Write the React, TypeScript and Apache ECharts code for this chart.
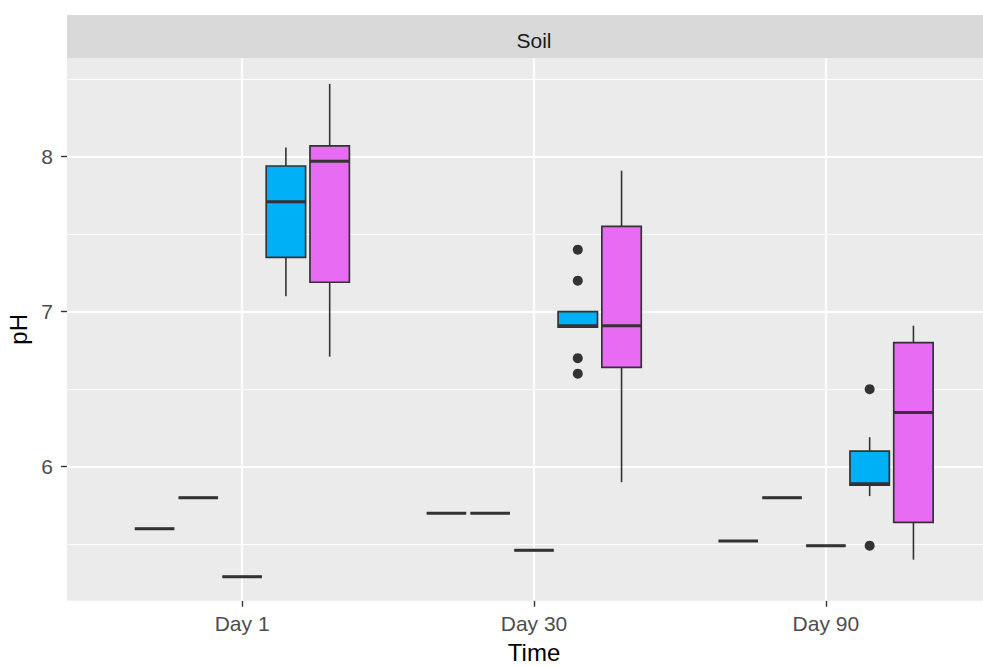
import React, { useEffect, useRef } from "react";
import * as echarts from "echarts";

// ---- data ----
const categories = ["Day 1", "Day 30", "Day 90"];
const dayPositions = [1, 2, 3];
const yTicks = [6, 7, 8];
const yMinorGrid = [5.5, 6.5, 7.5, 8.5];
const groupColors = ["#F8766D", "#A3A500", "#00BF7D", "#00B0F6", "#E76BF3"];

// each row: [min, q1, median, q3, max] for groups 1..5
const day1Stats = [
  [5.6, 5.6, 5.6, 5.6, 5.6],
  [5.8, 5.8, 5.8, 5.8, 5.8],
  [5.29, 5.29, 5.29, 5.29, 5.29],
  [7.1, 7.35, 7.71, 7.94, 8.06],
  [6.71, 7.19, 7.97, 8.07, 8.47],
];
const day30Stats = [
  [5.7, 5.7, 5.7, 5.7, 5.7],
  [5.7, 5.7, 5.7, 5.7, 5.7],
  [5.46, 5.46, 5.46, 5.46, 5.46],
  [6.9, 6.9, 6.91, 7.0, 7.0],
  [5.9, 6.64, 6.91, 7.55, 7.91],
];
const day90Stats = [
  [5.52, 5.52, 5.52, 5.52, 5.52],
  [5.8, 5.8, 5.8, 5.8, 5.8],
  [5.49, 5.49, 5.49, 5.49, 5.49],
  [5.81, 5.88, 5.89, 6.1, 6.19],
  [5.4, 5.64, 6.35, 6.8, 6.91],
];
const day30Group4Outliers = [7.4, 7.2, 6.7, 6.6];
const day90Group4Outliers = [6.5, 5.49];

const FONT = "Liberation Sans, Arial, sans-serif";
const DODGE = 0.15;
const BOX_W = 0.135;

export default function App() {
  const ref = useRef<HTMLDivElement>(null);

  useEffect(() => {
    if (!ref.current) return;
    const chart = echarts.init(ref.current, undefined, { renderer: "svg" });

    const allStats = [day1Stats, day30Stats, day90Stats];
    const boxData: number[][] = [];
    allStats.forEach((dayStats, d) => {
      dayStats.forEach((s, g) => {
        boxData.push([dayPositions[d], g, ...s]);
      });
    });

    const outlierData: number[][] = [];
    const pushOut = (dayIdx: number, g: number, vals: number[]) =>
      vals.forEach((v) => outlierData.push([dayPositions[dayIdx] + (g - 2) * DODGE, v]));
    pushOut(1, 3, day30Group4Outliers);
    pushOut(2, 3, day90Group4Outliers);

    const gridLines: any[] = [
      ...dayPositions.map((v) => ({ xAxis: v, lineStyle: { color: "#FFFFFF", width: 2, type: "solid" } })),
      ...yTicks.map((v) => ({ yAxis: v, lineStyle: { color: "#FFFFFF", width: 2, type: "solid" } })),
      ...yMinorGrid.map((v) => ({ yAxis: v, lineStyle: { color: "#FFFFFF", width: 1.1, type: "solid" } })),
    ];

    const option: any = {
      animation: false,
      grid: {
        left: 67,
        top: 58,
        right: 0,
        bottom: 65.3,
        containLabel: false,
        outerBoundsMode: "none",
        show: true,
        backgroundColor: "#EBEBEB",
        borderWidth: 0,
      },
      xAxis: {
        type: "value",
        min: 0.4,
        max: 3.6,
        axisLine: { show: false },
        splitLine: { show: false },
        axisTick: {
          show: true,
          customValues: dayPositions,
          length: 6,
          lineStyle: { color: "#333333", width: 1.4 },
        },
        axisLabel: {
          customValues: dayPositions,
          formatter: (v: number) => categories[Math.round(v) - 1] ?? "",
          color: "#4D4D4D",
          fontSize: 21,
          fontFamily: FONT,
          margin: 12,
        },
        name: "Time",
        nameLocation: "middle",
        nameGap: 40,
        nameTextStyle: { fontSize: 24, lineHeight: 24, color: "#000000", fontFamily: FONT },
      },
      yAxis: {
        type: "value",
        min: 5.135,
        max: 8.637,
        axisLine: { show: false },
        splitLine: { show: false },
        axisTick: {
          show: true,
          customValues: yTicks,
          length: 6,
          lineStyle: { color: "#333333", width: 1.4 },
        },
        axisLabel: {
          customValues: yTicks,
          color: "#4D4D4D",
          fontSize: 21,
          fontFamily: FONT,
          margin: 14,
        },
        name: "pH",
        nameLocation: "middle",
        nameGap: 31,
        nameRotate: 90,
        nameTextStyle: { fontSize: 24, lineHeight: 24, color: "#000000", fontFamily: FONT },
      },
      graphic: [
        {
          type: "rect",
          shape: { x: 67, y: 15, width: 934, height: 43 },
          style: { fill: "#D9D9D9" },
          silent: true,
        },
        {
          type: "text",
          x: 534,
          y: 40,
          style: {
            text: "Soil",
            fill: "#1A1A1A",
            fontSize: 21,
            fontFamily: FONT,
            align: "center",
            verticalAlign: "middle",
          },
          silent: true,
        },
      ],
      series: [
        {
          type: "line",
          data: [],
          silent: true,
          z: 1,
          markLine: {
            silent: true,
            z: 1,
            symbol: ["none", "none"],
            label: { show: false },
            data: gridLines,
          },
        },
        {
          type: "custom",
          z: 3,
          data: boxData,
          renderItem: (params: any, api: any) => {
            const day = api.value(0);
            const g = api.value(1);
            const xc = day + (g - 2) * DODGE;
            const [cx, yMin] = api.coord([xc, api.value(2)]);
            const yQ1 = api.coord([xc, api.value(3)])[1];
            const yMed = api.coord([xc, api.value(4)])[1];
            const yQ3 = api.coord([xc, api.value(5)])[1];
            const yMax = api.coord([xc, api.value(6)])[1];
            const hw = api.size([BOX_W, 0])[0] / 2;
            const stroke = "#333333";
            return {
              type: "group",
              children: [
                {
                  type: "line",
                  shape: { x1: cx, y1: yQ3, x2: cx, y2: yMax },
                  style: { stroke, lineWidth: 1.6 },
                },
                {
                  type: "line",
                  shape: { x1: cx, y1: yQ1, x2: cx, y2: yMin },
                  style: { stroke, lineWidth: 1.6 },
                },
                {
                  type: "rect",
                  shape: { x: cx - hw, y: yQ3, width: hw * 2, height: yQ1 - yQ3 },
                  style: { fill: groupColors[g], stroke, lineWidth: 1.7 },
                },
                {
                  type: "line",
                  shape: { x1: cx - hw, y1: yMed, x2: cx + hw, y2: yMed },
                  style: { stroke, lineWidth: 3 },
                },
              ],
            };
          },
        },
        {
          type: "scatter",
          z: 4,
          data: outlierData,
          symbol: "circle",
          symbolSize: 10,
          itemStyle: { color: "#333333", opacity: 1 },
        },
      ],
    };

    chart.setOption(option);
    return () => chart.dispose();
  }, []);

  return (
    <div
      style={{
        position: "fixed",
        left: 0,
        top: 0,
        width: 983,
        height: 666,
        overflow: "hidden",
        background: "#FFFFFF",
      }}
    >
      <div ref={ref} style={{ width: 1001, height: 666 }} />
    </div>
  );
}
